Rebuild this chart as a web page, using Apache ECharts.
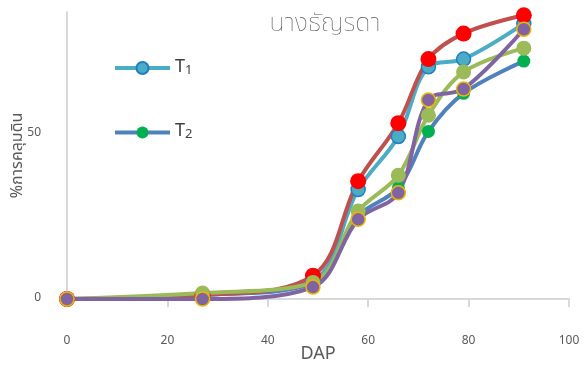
<!DOCTYPE html>
<html><head><meta charset="utf-8">
<script src="https://cdn.jsdelivr.net/npm/echarts@6/dist/echarts.min.js"></script>
<style>html,body{margin:0;padding:0;background:#fff}#c{width:584px;height:365px}</style>
</head><body><div id="c"></div>
<script>
var dap = [0, 27, 49, 58, 66, 72, 79, 91];
var t1 = [0, 1.2, 5.5, 33, 49, 70, 72.3, 83];
var t2 = [0, 1.2, 4.8, 25, 33.5, 50.5, 62, 71.7];
var t3 = [0, 1.2, 7, 35.5, 53, 72.3, 80, 85.5];
var t4 = [0, 1.8, 5, 26.5, 37.3, 55.4, 68.4, 75.6];
var t5 = [0, 0, 3.6, 24, 32, 60, 63.3, 81.3];
var xTicks = [0, 20, 40, 60, 80, 100];
var yTicks = [0, 50];

var FONT = '"Noto Sans Thai", "Noto Sans", "DejaVu Sans", sans-serif';
function pts(v){ return dap.map(function(x,i){ return [x, v[i]]; }); }
function mk(name, vals, lineColor, markColor, borderColor, size){
  return {
    name: name, type: 'line', data: pts(vals), smooth: 0.35,
    symbol: 'circle', symbolSize: size,
    lineStyle: {color: lineColor, width: 4},
    itemStyle: {color: markColor, borderColor: borderColor, borderWidth: borderColor === markColor ? 0 : 1.5},
    emphasis: {disabled: true}
  };
}
var chart = echarts.init(document.getElementById('c'), null, {renderer: 'canvas'});
chart.setOption({
  animation: false,
  backgroundColor: '#fff',
  title: {
    text: 'นางธัญรดา', left: 320, top: 8, textAlign: 'center',
    textStyle: {fontFamily: FONT, fontSize: 25, fontWeight: 'lighter', color: '#595959'}
  },
  legend: {
    data: ['T1', 'T2'], orient: 'vertical', left: 108, top: 54,
    itemWidth: 55, itemHeight: 15, itemGap: 46,
    lineStyle: {width: 4},
    formatter: function(n){ return '{a|T}{b|' + n.slice(1) + '}'; },
    textStyle: {
      rich: {
        a: {fontFamily: FONT, fontSize: 18, color: '#404040'},
        b: {fontFamily: FONT, fontSize: 13, color: '#404040', padding: [6,0,0,0]}
      }
    }
  },
  grid: {left: 67, right: 15, top: 12, bottom: 66, outerBoundsMode: 'none', containLabel: false},
  xAxis: {
    type: 'value', min: 0, max: 100, interval: 20,
    name: 'DAP', nameLocation: 'middle', nameGap: 47, nameMoveOverlap: false,
    nameTextStyle: {fontFamily: FONT, fontSize: 18, color: '#595959'},
    axisLine: {show: true, lineStyle: {color: '#D9D9D9', width: 2}},
    axisTick: {show: true, length: 8, lineStyle: {color: '#D9D9D9', width: 2}},
    axisLabel: {margin: 37, fontFamily: FONT, fontSize: 12, color: '#595959',
      formatter: function(v){ return xTicks.indexOf(v) >= 0 ? String(v) : ''; }},
    splitLine: {show: false}
  },
  yAxis: {
    type: 'value', min: 0, max: 86.5, interval: 50,
    name: '%การคลุมดิน', nameLocation: 'middle', nameGap: 40, nameRotate: 90, nameMoveOverlap: false,
    nameTextStyle: {fontFamily: FONT, fontSize: 16, color: '#595959'},
    axisLine: {show: true, lineStyle: {color: '#D9D9D9', width: 2}},
    axisTick: {show: false},
    axisLabel: {margin: 26, fontFamily: FONT, fontSize: 12, color: '#595959', showMaxLabel: false,
      formatter: function(v){ return yTicks.indexOf(v) >= 0 ? String(v) : ''; }},
    splitLine: {show: false}
  },
  series: [
    mk('T1', t1, '#4BACC6', '#4BACC6', '#1F7FC0', 14),
    mk('T2', t2, '#4F81BD', '#00B050', '#00B050', 13),
    mk('T3', t3, '#C0504D', '#FF0000', '#FF0000', 16),
    mk('T4', t4, '#9BBB59', '#9BBB59', '#9BBB59', 15),
    mk('T5', t5, '#8064A2', '#8064A2', '#F0B400', 14)
  ]
});
</script></body></html>
